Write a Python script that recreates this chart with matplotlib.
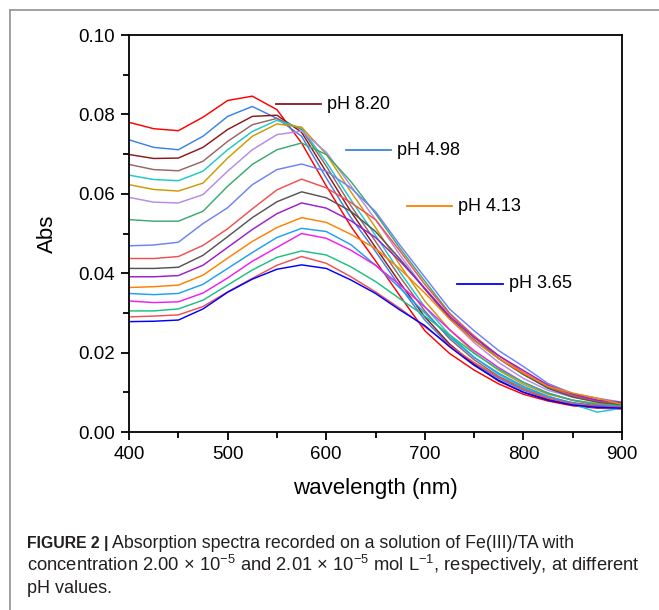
import matplotlib
matplotlib.use("Agg")
import matplotlib.pyplot as plt
from matplotlib.lines import Line2D
from matplotlib.ticker import MultipleLocator

plt.rcParams['font.family'] = ['Liberation Sans', 'DejaVu Sans']
plt.rcParams['mathtext.fontset'] = 'custom'
plt.rcParams['mathtext.rm'] = 'Liberation Sans'

# wavelength grid (nm)
wavelength = [400, 425, 450, 475, 500, 525, 550, 575, 600, 625, 650,
              675, 700, 725, 750, 775, 800, 825, 850, 875, 900]

# absorbance spectra, top to bottom at 400 nm
spectra = [
    [0.0780, 0.0764, 0.0759, 0.0793, 0.0835, 0.0846, 0.0812, 0.0728, 0.0620, 0.0518, 0.0431,
     0.0342, 0.0255, 0.0198, 0.0156, 0.0121, 0.0095, 0.0078, 0.0066, 0.0060, 0.0058],
    [0.0736, 0.0717, 0.0711, 0.0745, 0.0795, 0.0820, 0.0790, 0.0745, 0.0640, 0.0540, 0.0455,
     0.0365, 0.0282, 0.0218, 0.0172, 0.0135, 0.0105, 0.0085, 0.0070, 0.0062, 0.0060],
    [0.0699, 0.0689, 0.0690, 0.0717, 0.0762, 0.0795, 0.0798, 0.0755, 0.0655, 0.0555, 0.0465,
     0.0375, 0.0290, 0.0222, 0.0170, 0.0128, 0.0100, 0.0082, 0.0070, 0.0064, 0.0062],
    [0.0674, 0.0661, 0.0658, 0.0682, 0.0732, 0.0774, 0.0790, 0.0762, 0.0670, 0.0570, 0.0480,
     0.0390, 0.0305, 0.0235, 0.0182, 0.0140, 0.0110, 0.0088, 0.0074, 0.0066, 0.0064],
    [0.0647, 0.0636, 0.0633, 0.0657, 0.0711, 0.0757, 0.0785, 0.0765, 0.0680, 0.0585, 0.0495,
     0.0402, 0.0315, 0.0245, 0.0188, 0.0145, 0.0112, 0.0088, 0.0070, 0.0050, 0.0060],
    [0.0623, 0.0611, 0.0607, 0.0627, 0.0690, 0.0745, 0.0776, 0.0768, 0.0700, 0.0605, 0.0515,
     0.0420, 0.0330, 0.0258, 0.0200, 0.0155, 0.0120, 0.0095, 0.0080, 0.0072, 0.0068],
    [0.0591, 0.0579, 0.0577, 0.0598, 0.0657, 0.0711, 0.0749, 0.0758, 0.0705, 0.0620, 0.0535,
     0.0445, 0.0360, 0.0285, 0.0225, 0.0175, 0.0135, 0.0105, 0.0088, 0.0078, 0.0072],
    [0.0535, 0.0531, 0.0531, 0.0556, 0.0619, 0.0674, 0.0711, 0.0728, 0.0699, 0.0631, 0.0550,
     0.0462, 0.0380, 0.0300, 0.0240, 0.0185, 0.0145, 0.0112, 0.0092, 0.0080, 0.0070],
    [0.0469, 0.0471, 0.0478, 0.0525, 0.0565, 0.0623, 0.0661, 0.0675, 0.0657, 0.0615, 0.0555,
     0.0470, 0.0390, 0.0310, 0.0255, 0.0205, 0.0165, 0.0122, 0.0097, 0.0085, 0.0075],
    [0.0437, 0.0437, 0.0442, 0.0470, 0.0512, 0.0562, 0.0610, 0.0637, 0.0615, 0.0578, 0.0535,
     0.0455, 0.0372, 0.0298, 0.0242, 0.0192, 0.0150, 0.0115, 0.0090, 0.0078, 0.0070],
    [0.0412, 0.0412, 0.0415, 0.0445, 0.0492, 0.0540, 0.0580, 0.0605, 0.0590, 0.0556, 0.0505,
     0.0435, 0.0360, 0.0288, 0.0232, 0.0185, 0.0145, 0.0110, 0.0088, 0.0075, 0.0068],
    [0.0391, 0.0391, 0.0394, 0.0420, 0.0465, 0.0510, 0.0550, 0.0577, 0.0564, 0.0532, 0.0490,
     0.0430, 0.0362, 0.0292, 0.0238, 0.0192, 0.0155, 0.0118, 0.0095, 0.0080, 0.0074],
    [0.0364, 0.0366, 0.0370, 0.0395, 0.0438, 0.0480, 0.0515, 0.0540, 0.0528, 0.0498, 0.0462,
     0.0410, 0.0350, 0.0285, 0.0230, 0.0185, 0.0148, 0.0115, 0.0098, 0.0085, 0.0070],
    [0.0349, 0.0346, 0.0349, 0.0372, 0.0412, 0.0452, 0.0490, 0.0513, 0.0505, 0.0472, 0.0420,
     0.0362, 0.0300, 0.0240, 0.0188, 0.0148, 0.0115, 0.0090, 0.0072, 0.0062, 0.0060],
    [0.0330, 0.0326, 0.0328, 0.0350, 0.0388, 0.0430, 0.0465, 0.0500, 0.0488, 0.0458, 0.0420,
     0.0370, 0.0315, 0.0258, 0.0205, 0.0162, 0.0125, 0.0098, 0.0080, 0.0068, 0.0064],
    [0.0305, 0.0305, 0.0310, 0.0332, 0.0370, 0.0408, 0.0440, 0.0456, 0.0446, 0.0416, 0.0379,
     0.0335, 0.0292, 0.0245, 0.0198, 0.0158, 0.0125, 0.0098, 0.0080, 0.0070, 0.0066],
    [0.0290, 0.0292, 0.0295, 0.0316, 0.0353, 0.0387, 0.0420, 0.0442, 0.0425, 0.0391, 0.0353,
     0.0311, 0.0265, 0.0218, 0.0175, 0.0138, 0.0108, 0.0085, 0.0070, 0.0062, 0.0060],
    [0.0278, 0.0279, 0.0282, 0.0310, 0.0352, 0.0385, 0.0410, 0.0421, 0.0412, 0.0383, 0.0349,
     0.0307, 0.0268, 0.0215, 0.0168, 0.0130, 0.0100, 0.0080, 0.0068, 0.0062, 0.0060],
]

colors = ['#FF0000', '#3C82E6', '#8B1A1A', '#9A6464', '#1EC8C8', '#CC9A00',
          '#B48CE8', '#3CAA6E', '#6E82F5', '#F05050', '#555555', '#9A1ECC',
          '#FF8000', '#1EA0F0', '#F01EF0', '#1EC080', '#F05050', '#0000FF']

# labels drawn as short line samples inside the plot
label_text = ['pH 8.20', 'pH 4.98', 'pH 4.13', 'pH 3.65']
label_color = ['#8B1A1A', '#3C82E6', '#FF8000', '#0000FF']
label_x = [549, 620, 682, 733]
label_y = [0.0826, 0.0710, 0.0569, 0.0373]

fig = plt.figure(figsize=(6.59, 6.10), dpi=100)
ax = fig.add_axes([0.1958, 0.2918, 0.7481, 0.6508])

for vals, c in zip(spectra, colors):
    ax.plot(wavelength, vals, color=c, lw=1.05)

for t, c, x, y in zip(label_text, label_color, label_x, label_y):
    ax.plot([x, x + 46], [y, y], color=c, lw=1.3)
    ax.text(x + 52, y, t, fontsize=13, va='center', ha='left')

ax.set_xlim(400, 900)
ax.set_ylim(0, 0.10)
ax.xaxis.set_major_locator(MultipleLocator(100))
ax.xaxis.set_minor_locator(MultipleLocator(50))
ax.yaxis.set_major_locator(MultipleLocator(0.02))
ax.yaxis.set_minor_locator(MultipleLocator(0.01))
ax.yaxis.set_major_formatter(plt.FormatStrFormatter('%.2f'))
ax.tick_params(which='both', direction='out', width=1.3, labelsize=13.5, top=False, right=False)
ax.tick_params(which='major', length=6, pad=4)
ax.tick_params(which='minor', length=4)
for s in ax.spines.values():
    s.set_linewidth(1.3)
ax.set_xlabel('wavelength (nm)', fontsize=16, labelpad=11)
ax.set_ylabel('Abs', fontsize=16, labelpad=15)

# grey frame (top and left)
fig.add_artist(Line2D([10/659, 1], [1 - 10/610, 1 - 10/610], color='#9a9a9a', lw=1.3))
fig.add_artist(Line2D([10/659, 10/659], [0, 1 - 10/610], color='#9a9a9a', lw=1.3))

cap_col = '#231f20'
head = fig.text(27/659, 1 - 548/610, 'FIGURE 2 |', fontsize=11.3, fontweight='bold',
                va='baseline', color=cap_col)
fig.canvas.draw()
bb = head.get_window_extent()
fig.text((bb.x1 + 4)/659, 1 - 548/610,
         'Absorption spectra recorded on a solution of Fe(III)/TA with',
         fontsize=12.8, va='baseline', color=cap_col)
fig.text(27/659, 1 - 571/610,
         r'concentration 2.00 $\times$ 10$^{-5}$ and 2.01 $\times$ 10$^{-5}$ mol L$^{-1}$, respectively, at different',
         fontsize=13.2, va='baseline', color=cap_col)
fig.text(27/659, 1 - 593/610, 'pH values.', fontsize=13, va='baseline', color=cap_col)

fig.savefig('out.png', dpi=100)
